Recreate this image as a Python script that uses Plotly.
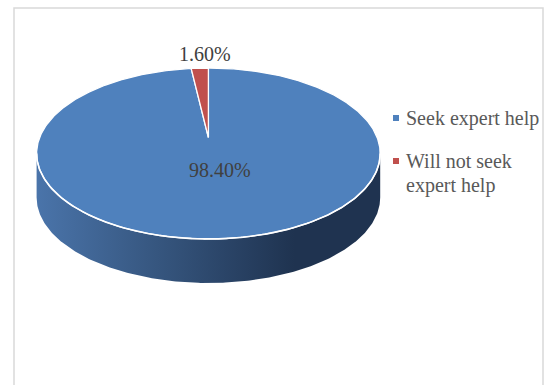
import numpy as np
import plotly.graph_objects as go

categories = ["Seek expert help", "Will not seek expert help"]
legend_lines = [["Seek expert help"], ["Will not seek", "expert help"]]
values = [98.40, 1.60]
colors = ["#4f81bd", "#c0504d"]

W, H = 546, 385
cx, cy = 208.4, 153.5       # centre of top face ellipse (px)
rx, ry = 171.8, 85.5        # radii
depth = 44                  # thickness of the 3D rim
apex_dy = -16               # perspective: projected pie centre sits above ellipse centre

fig = go.Figure()

def rim(theta_deg, dy=0.0):
    t = np.radians(theta_deg)
    return cx + rx * np.sin(t), cy - ry * np.cos(t) + dy

# side (front half of the cylinder)
th = np.linspace(90, 270, 240)
x_top, y_top = rim(th)
x_bot, y_bot = rim(th[::-1], depth)
fig.add_trace(go.Scatter(
    x=np.concatenate([x_top, x_bot]), y=np.concatenate([y_top, y_bot]),
    fill="toself", mode="lines", line=dict(width=0),
    fillgradient=dict(type="horizontal",
                      colorscale=[[0, "#4a74aa"], [0.35, "#36567f"], [0.75, "#1f3350"], [1, "#1f3350"]]),
    hoverinfo="skip", showlegend=False))

# top face slices: clockwise from 12 o'clock
total = sum(values)
start = 0.0
ax_, ay_ = cx, cy + apex_dy
for cat, v, c in zip(categories, values, colors):
    span = 360.0 * v / total
    th = np.linspace(start, start + span, max(int(span * 2), 4))
    xs, ys = rim(th)
    fig.add_trace(go.Scatter(
        x=np.concatenate([[ax_], xs, [ax_]]), y=np.concatenate([[ay_], ys, [ay_]]),
        fill="toself", fillcolor=c, mode="lines",
        line=dict(color="white", width=1.3),
        name=cat, showlegend=False, hoverinfo="name"))
    start += span

# white front edge of the top face
th = np.linspace(90, 270, 240)
xs, ys = rim(th)
fig.add_trace(go.Scatter(x=xs, y=ys, mode="lines", line=dict(color="white", width=1.6),
                         hoverinfo="skip", showlegend=False))

FONT = "Liberation Serif"

# data labels
label_pos = [(220, 170), (205, 54)]
for v, (lx, ly) in zip(values, label_pos):
    fig.add_annotation(x=lx, y=ly, text=f"{v:.2f}%", showarrow=False,
                       font=dict(family=FONT, size=20, color="#404040"),
                       xanchor="center", yanchor="middle")

# legend (markers + text)
leg_y = [118, 161]
line_gap = 24
fig.add_trace(go.Scatter(x=[396, 396], y=leg_y, mode="markers",
                         marker=dict(symbol="square", size=6, color=colors),
                         hoverinfo="skip", showlegend=False))
for lines, ly in zip(legend_lines, leg_y):
    for i, ln in enumerate(lines):
        fig.add_annotation(x=404, y=ly + i * line_gap, text=ln, showarrow=False,
                           font=dict(family=FONT, size=20, color="#595959"),
                           xanchor="left", yanchor="middle")

fig.add_shape(type="rect", xref="paper", yref="paper",
              x0=14 / W, x1=543 / W, y0=-0.05, y1=1 - 8 / H,
              line=dict(color="#d9d9d9", width=1.5), fillcolor="rgba(0,0,0,0)")

fig.update_layout(
    width=W, height=H, margin=dict(l=0, r=0, t=0, b=0),
    paper_bgcolor="white", plot_bgcolor="white",
    xaxis=dict(range=[0, W], visible=False, fixedrange=True),
    yaxis=dict(range=[H, 0], visible=False, fixedrange=True),
    showlegend=False,
)
fig.write_html("out.html")
